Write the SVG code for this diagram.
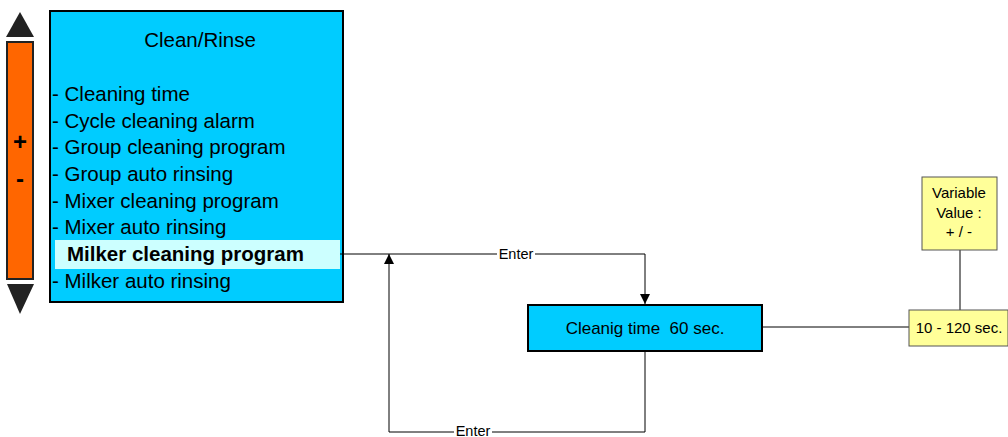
<svg xmlns="http://www.w3.org/2000/svg" width="1008" height="437" viewBox="0 0 1008 437">
<style>
text{font-family:"Liberation Sans",Arial,sans-serif;fill:#000}
.box{fill:#00CCFF;stroke:#000;stroke-width:2}
.yel{fill:#FFFF99;stroke:#555;stroke-width:1}
.ln{fill:none;stroke:#000;stroke-width:1}
.item{font-size:20.5px}
.lbl{font-size:14.5px}
.y{font-size:15px}
</style>
<defs>
<marker id="arr" markerWidth="10" markerHeight="10" refX="10" refY="5" orient="auto" markerUnits="userSpaceOnUse">
<path d="M0,0 L10,5 L0,10 Z" fill="#000"/>
</marker>
</defs>
<g id="scroll">
<polygon points="20,12 34,37 6,37" fill="#222"/>
<rect x="7" y="42" width="26" height="237" fill="#FF6600" stroke="#222" stroke-width="2"/>
<text x="20" y="150" font-size="24" font-weight="bold" text-anchor="middle">+</text>
<text x="20" y="187" font-size="24" font-weight="bold" text-anchor="middle">-</text>
<polygon points="7,284 34,284 20,314" fill="#222"/>
</g>
<g id="menu">
<rect class="box" x="50" y="11" width="293" height="291"/>
<text x="200" y="47" font-size="20.5" text-anchor="middle">Clean/Rinse</text>
<rect x="55" y="240" width="285" height="29" fill="#CCFFFF"/>
<text class="item" x="52" y="101">- Cleaning time</text>
<text class="item" x="52" y="128">- Cycle cleaning alarm</text>
<text class="item" x="52" y="154">- Group cleaning program</text>
<text class="item" x="52" y="181">- Group auto rinsing</text>
<text class="item" x="52" y="208">- Mixer cleaning program</text>
<text class="item" x="52" y="234">- Mixer auto rinsing</text>
<text class="item" x="67" y="261" font-weight="bold">Milker cleaning program</text>
<text class="item" x="52" y="288">- Milker auto rinsing</text>
</g>
<g id="connectors">
<path class="ln" d="M340,254 H645 V304" marker-end="url(#arr)"/>
<rect x="497" y="246" width="38" height="16" fill="#fff"/>
<text class="lbl" x="516" y="259" text-anchor="middle">Enter</text>
<path class="ln" d="M645,351 V432 H389 V254" marker-end="url(#arr)"/>
<rect x="454" y="426" width="38" height="11" fill="#fff"/>
<text class="lbl" x="473" y="436" text-anchor="middle">Enter</text>
<path class="ln" d="M763,327 H909" stroke-width="2"/>
<path class="ln" d="M960,250 V310" stroke-width="1.5"/>
</g>
<g id="cleaning-time">
<rect class="box" x="528" y="305" width="234" height="46"/>
<text x="645" y="334" font-size="17" text-anchor="middle" xml:space="preserve">Cleanig time  60 sec.</text>
</g>
<g id="range">
<rect class="yel" x="909" y="310" width="99" height="36"/>
<text class="y" x="959" y="333" text-anchor="middle">10 - 120 sec.</text>
</g>
<g id="variable">
<rect class="yel" x="922" y="177" width="75" height="73"/>
<text class="y" x="959" y="198" text-anchor="middle">Variable</text>
<text class="y" x="959" y="218" text-anchor="middle">Value :</text>
<text class="y" x="959" y="237" text-anchor="middle">+ / -</text>
</g>
</svg>
